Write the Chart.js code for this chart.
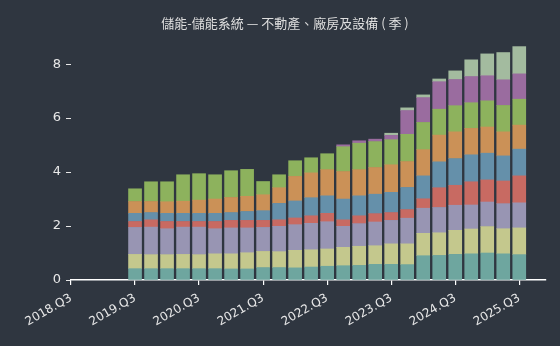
<!DOCTYPE html>
<html>
<head>
<meta charset="utf-8">
<script src="https://cdn.jsdelivr.net/npm/chart.js@4.4.1/dist/chart.umd.min.js"></script>
<style>
  html, body { margin: 0; padding: 0; background: #2f3640; }
  canvas { display: block; }
</style>
</head>
<body>
<canvas id="c" width="560" height="346"></canvas>
<script>
// Chart title
const titleText = '儲能-儲能系統 — 不動產、廠房及設備 ( 季 )';

// Quarters with data
const quarters = [
  '2019.Q3','2019.Q4','2020.Q1','2020.Q2','2020.Q3','2020.Q4',
  '2021.Q1','2021.Q2','2021.Q3','2021.Q4','2022.Q1','2022.Q2',
  '2022.Q3','2022.Q4','2023.Q1','2023.Q2','2023.Q3','2023.Q4',
  '2024.Q1','2024.Q2','2024.Q3','2024.Q4','2025.Q1','2025.Q2','2025.Q3'
];

// Tick labels on the time axis (one per year)
const tickLabels = ['2018.Q3','2019.Q3','2020.Q3','2021.Q3','2022.Q3','2023.Q3','2024.Q3','2025.Q3'];

// Y-axis ticks
const yTicks = [0, 2, 4, 6, 8];

// Stacked series, bottom to top
const seriesA = [0.42,0.42,0.42,0.42,0.42,0.42,0.41,0.41,0.46,0.46,0.45,0.48,0.51,0.53,0.54,0.58,0.58,0.57,0.90,0.91,0.95,0.97,1.00,0.97,0.94];
const seriesB = [0.53,0.52,0.52,0.53,0.52,0.55,0.56,0.60,0.60,0.59,0.65,0.64,0.64,0.68,0.71,0.69,0.76,0.77,0.83,0.84,0.89,0.92,0.98,0.93,0.99];
const seriesC = [1.00,1.02,0.96,1.01,1.02,0.93,0.96,0.92,0.89,0.94,0.95,0.98,1.01,0.78,0.84,0.88,0.87,0.95,0.93,0.94,0.93,0.89,0.91,0.93,0.93];
const seriesD = [0.22,0.27,0.27,0.21,0.21,0.27,0.28,0.28,0.26,0.24,0.25,0.28,0.31,0.24,0.29,0.31,0.29,0.32,0.35,0.73,0.74,0.86,0.82,0.84,1.00];
const seriesE = [0.30,0.27,0.30,0.30,0.30,0.30,0.29,0.33,0.36,0.61,0.63,0.67,0.65,0.77,0.74,0.72,0.75,0.82,0.85,0.96,0.99,1.00,0.99,0.93,0.99];
const seriesF = [0.44,0.41,0.43,0.45,0.49,0.53,0.56,0.56,0.59,0.58,0.91,0.92,0.97,1.02,0.97,0.99,1.02,0.96,0.97,0.99,0.99,0.98,0.97,0.89,0.89];
const seriesG = [0.47,0.73,0.74,0.98,0.98,0.90,0.99,1.00,0.49,0.48,0.58,0.56,0.59,0.92,0.98,0.96,0.93,1.01,1.01,0.96,0.97,0.95,0.97,0.98,0.96];
const seriesH = [null,null,null,null,null,null,null,null,null,null,null,null,null,0.07,0.09,0.09,0.16,0.88,0.92,1.02,0.97,0.97,0.93,0.95,0.94];
const seriesI = [null,null,null,null,null,null,null,null,null,null,null,null,null,null,null,null,0.08,0.10,0.10,0.10,0.32,0.62,0.81,1.01,1.01];

const allSeries = [seriesA, seriesB, seriesC, seriesD, seriesE, seriesF, seriesG, seriesH, seriesI];
const colors = ['#6ea69f','#c4c88d','#9895b3','#c86a62','#6590aa','#cb9157','#8db25d','#9a6c9f','#a3bb9f'];

// Quarter index counted from 2018.Q3
function quarterIndex(label) {
  const [y, q] = label.split('.Q').map(Number);
  return (y - 2018) * 4 + (q - 3);
}

const datasets = allSeries.map((vals, i) => ({
  label: 'S' + (i + 1),
  data: vals.map((v, j) => ({ x: quarterIndex(quarters[j]), y: v })),
  backgroundColor: colors[i],
  borderWidth: 0,
  barThickness: 13
}));

const textColor = '#e8e8e8';

const titlePlugin = {
  id: 'chartTitle',
  afterDraw(chart) {
    const ctx = chart.ctx;
    ctx.save();
    ctx.font = '13px "Noto Sans CJK TC"';
    ctx.fillStyle = '#dedede';
    ctx.textAlign = 'center';
    ctx.textBaseline = 'middle';
    ctx.fillText(titleText, 285, 23);
    ctx.restore();
  }
};

new Chart(document.getElementById('c'), {
  type: 'bar',
  data: { datasets },
  plugins: [titlePlugin],
  options: {
    responsive: false,
    animation: false,
    layout: { padding: { top: 35, right: 14, bottom: 0, left: 0 } },
    plugins: {
      legend: { display: false },
      tooltip: { enabled: false },
      title: { display: false }
    },
    scales: {
      x: {
        type: 'linear',
        stacked: true,
        offset: false,
        min: 0,
        max: 29.67,
        grid: { offset: false, drawOnChartArea: false, drawTicks: true, tickLength: 5, color: '#ffffff', lineWidth: 1.2 },
        border: { display: true, color: '#ffffff', width: 1.5 },
        ticks: {
          color: textColor,
          font: { family: 'DejaVu Sans', size: 12 },
          minRotation: 30,
          maxRotation: 30,
          padding: 6,
          callback: (v) => {
            const idx = tickLabels.findIndex(l => quarterIndex(l) === v);
            return idx >= 0 ? tickLabels[idx] : '';
          }
        },
        afterBuildTicks: (axis) => {
          axis.ticks = tickLabels.map(l => ({ value: quarterIndex(l) }));
        },
        afterFit: (axis) => { axis.height = 66; }
      },
      y: {
        stacked: true,
        min: 0,
        max: 9.08,
        grid: { drawOnChartArea: false, drawTicks: true, tickLength: 5, color: '#e8e8e8', lineWidth: 1 },
        border: { display: false },
        ticks: {
          color: textColor,
          font: { family: 'DejaVu Sans', size: 13 },
          padding: 5
        },
        afterBuildTicks: (axis) => {
          axis.ticks = yTicks.map(v => ({ value: v }));
        },
        afterFit: (axis) => { axis.width = 71; }
      }
    }
  }
});
</script>
</body>
</html>
